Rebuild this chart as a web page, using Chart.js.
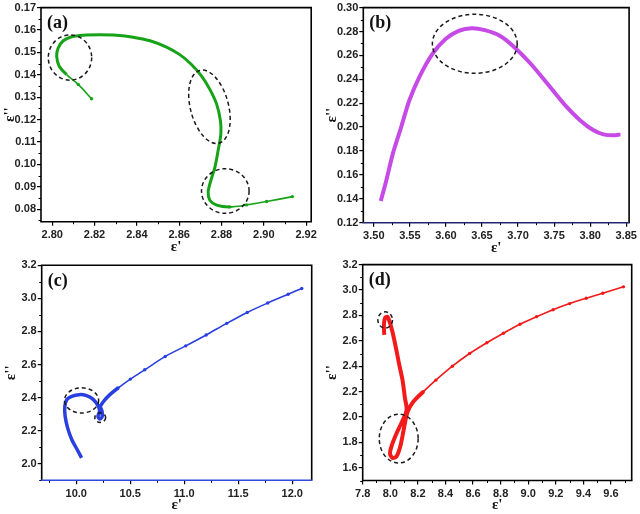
<!DOCTYPE html>
<html>
<head>
<meta charset="utf-8">
<script src="https://cdn.jsdelivr.net/npm/chart.js@4.4.1/dist/chart.umd.min.js"></script>
<style>
  html, body { margin: 0; padding: 0; background: #fff; }
  #fig { position: relative; width: 640px; height: 514px; }
  .panel { position: absolute; width: 320px; height: 257px; }
</style>
</head>
<body>
<div id="fig">
  <div class="panel" style="left:0;top:0"><canvas id="pa" width="320" height="257"></canvas></div>
  <div class="panel" style="left:320px;top:0"><canvas id="pb" width="320" height="257"></canvas></div>
  <div class="panel" style="left:0;top:257px"><canvas id="pc" width="320" height="257"></canvas></div>
  <div class="panel" style="left:320px;top:257px"><canvas id="pd" width="320" height="257"></canvas></div>
</div>
<script>
// ---- panel (a) ----
const aX = [2.8186, 2.8123, 2.8068, 2.8033, 2.8021, 2.8028, 2.8052, 2.8092, 2.8146, 2.8225, 2.8304,
  2.8383, 2.8462, 2.8540, 2.8603, 2.8658, 2.8706, 2.8745, 2.8777, 2.8795, 2.8797, 2.8784, 2.8769,
  2.8750, 2.8737, 2.8745, 2.8777, 2.8839, 2.8918, 2.9013, 2.9135];
const aY = [0.1293, 0.1357, 0.1401, 0.1438, 0.1483, 0.1519, 0.1552, 0.1570, 0.1577, 0.1579, 0.1577,
  0.1568, 0.1552, 0.1524, 0.1490, 0.1446, 0.1394, 0.1335, 0.1269, 0.1195, 0.1136, 0.1062, 0.0988,
  0.0929, 0.0877, 0.0840, 0.0818, 0.0810, 0.0819, 0.0834, 0.0856];
const aXTicks = [2.80, 2.82, 2.84, 2.86, 2.88, 2.90, 2.92];
const aYTicks = [0.08, 0.09, 0.10, 0.11, 0.12, 0.13, 0.14, 0.15, 0.16, 0.17];
// dashed circles: centre and half axes in data units, tilt in degrees
const aRings = [
  { x: 2.8084, y: 0.1477, rx: 0.01025, ry: 0.0101, tilt: 0 },
  { x: 2.8743, y: 0.1257, rx: 0.0090, ry: 0.0168, tilt: -14.7 },
  { x: 2.8818, y: 0.0881, rx: 0.01124, ry: 0.00997, tilt: 0 }
];

// ---- panel (b) ----
const bX = [3.5096, 3.5174, 3.5264, 3.5379, 3.5492, 3.5629, 3.5811, 3.5995, 3.6176, 3.6358, 3.6541,
  3.6747, 3.6952, 3.7179, 3.7408, 3.7636, 3.7863, 3.8047, 3.8183, 3.8320, 3.8420];
const bY = [0.1381, 0.1556, 0.1778, 0.2000, 0.2223, 0.2417, 0.2611, 0.2737, 0.2806, 0.2828, 0.2811,
  0.2764, 0.2667, 0.2528, 0.2362, 0.2195, 0.2056, 0.1973, 0.1939, 0.1931, 0.1939];
const bXTicks = [3.50, 3.55, 3.60, 3.65, 3.70, 3.75, 3.80, 3.85];
const bYTicks = [0.12, 0.14, 0.16, 0.18, 0.20, 0.22, 0.24, 0.26, 0.28, 0.30];
const bRings = [{ x: 3.640, y: 0.2697, rx: 0.0588, ry: 0.0247, tilt: 0 }];

// ---- panel (c) ----
const cX = [10.049, 10.008, 9.958, 9.920, 9.897, 9.894, 9.913, 9.958, 10.027, 10.095, 10.159, 10.205,
  10.216, 10.201, 10.216, 10.239, 10.239, 10.224, 10.254, 10.311, 10.387, 10.501, 10.634, 10.824,
  11.014, 11.203, 11.393, 11.583, 11.773, 11.962, 12.088];
const cY = [2.036, 2.086, 2.147, 2.217, 2.287, 2.347, 2.388, 2.408, 2.418, 2.412, 2.388, 2.347,
  2.317, 2.287, 2.271, 2.283, 2.317, 2.347, 2.378, 2.418, 2.458, 2.512, 2.568, 2.649,
  2.713, 2.779, 2.849, 2.915, 2.972, 3.025, 3.060];
const cXTicks = [10.0, 10.5, 11.0, 11.5, 12.0];
const cYTicks = [2.0, 2.2, 2.4, 2.6, 2.8, 3.0, 3.2];
const cRings = [
  { x: 10.049, y: 2.383, rx: 0.158, ry: 0.076, tilt: 0 },
  { x: 10.222, y: 2.279, rx: 0.050, ry: 0.029, tilt: 0 }
];

// ---- panel (d) ----
const dX = [7.956, 7.954, 7.963, 7.981, 7.997, 8.017, 8.040, 8.064, 8.089, 8.105, 8.118,
  8.085, 8.045, 8.012, 7.998, 8.015, 8.045, 8.072, 8.092, 8.108, 8.125,
  8.165, 8.24, 8.33, 8.45, 8.575, 8.70, 8.82, 8.94, 9.06, 9.18, 9.30, 9.42, 9.54, 9.69];
const dY = [2.647, 2.730, 2.782, 2.788, 2.743, 2.665, 2.548, 2.417, 2.288, 2.157, 2.053,
  1.962, 1.870, 1.780, 1.714, 1.678, 1.690, 1.766, 1.870, 1.962, 2.040,
  2.118, 2.20, 2.29, 2.40, 2.50, 2.585, 2.66, 2.73, 2.79, 2.845, 2.893, 2.935, 2.975, 3.025];
const dXTicks = [7.8, 8.0, 8.2, 8.4, 8.6, 8.8, 9.0, 9.2, 9.4, 9.6];
const dYTicks = [1.6, 1.8, 2.0, 2.2, 2.4, 2.6, 2.8, 3.0, 3.2];
const dRings = [
  { x: 7.963, y: 2.764, rx: 0.053, ry: 0.064, tilt: 0 },
  { x: 8.061, y: 1.830, rx: 0.141, ry: 0.192, tilt: 0 }
];

const tickFont = { family: "'Liberation Sans', Arial, sans-serif", size: 11, weight: "bold" };

// minor ticks sit halfway between the major ones
function minorTicks(major, lo, hi) {
  const step = major[1] - major[0];
  const out = [];
  for (let v = major[0] - step / 2; v <= hi + 1e-9; v += step) {
    if (v >= lo - 1e-9) out.push(v);
  }
  return out;
}

const decorations = {
  id: "decorations",
  afterDatasetsDraw(chart, args, o) {
    const { ctx, chartArea: a, scales: { x, y } } = chart;
    ctx.save();

    // dashed rings
    ctx.strokeStyle = "#1a1a1a";
    ctx.lineWidth = 1.5;
    ctx.setLineDash([4, 3]);
    o.rings.forEach((r) => {
      const cx = x.getPixelForValue(r.x);
      const cy = y.getPixelForValue(r.y);
      const rx = Math.abs(x.getPixelForValue(r.x + r.rx) - cx);
      const ry = Math.abs(y.getPixelForValue(r.y + r.ry) - cy);
      ctx.beginPath();
      ctx.ellipse(cx, cy, rx, ry, (r.tilt * Math.PI) / 180, 0, Math.PI * 2);
      ctx.stroke();
    });
    ctx.setLineDash([]);

    // minor ticks
    ctx.strokeStyle = "#000";
    ctx.lineWidth = 1;
    minorTicks(o.xTicks, x.min, x.max).forEach((v) => {
      const p = Math.round(x.getPixelForValue(v)) + 0.5;
      ctx.beginPath();
      ctx.moveTo(p, a.bottom);
      ctx.lineTo(p, a.bottom + 2.5);
      ctx.stroke();
    });
    minorTicks(o.yTicks, y.min, y.max).forEach((v) => {
      const p = Math.round(y.getPixelForValue(v)) + 0.5;
      ctx.beginPath();
      ctx.moveTo(a.left, p);
      ctx.lineTo(a.left - 2.5, p);
      ctx.stroke();
    });

    // frame
    ctx.lineWidth = 1.6;
    ctx.strokeStyle = "#000";
    ctx.beginPath();
    ctx.moveTo(a.left, a.bottom);
    ctx.lineTo(a.left, a.top);
    ctx.lineTo(a.right, a.top);
    ctx.lineTo(a.right, a.bottom);
    ctx.stroke();
    ctx.strokeStyle = o.bottomColor;
    ctx.beginPath();
    ctx.moveTo(a.left - 0.8, a.bottom);
    ctx.lineTo(a.right + 0.8, a.bottom);
    ctx.stroke();

    // panel letter
    ctx.fillStyle = "#111";
    ctx.font = "bold 18px 'Liberation Serif', 'Times New Roman', serif";
    ctx.textAlign = "left";
    ctx.textBaseline = "middle";
    ctx.fillText(o.letter, a.left + 6, a.top + 16);

    // axis titles
    ctx.font = "bold 15px 'Liberation Serif', 'Times New Roman', serif";
    ctx.textAlign = "center";
    ctx.fillText("ε'", (a.left + a.right) / 2, a.bottom + 25);
    ctx.translate(a.left - 31, (a.top + a.bottom) / 2);
    ctx.rotate(-Math.PI / 2);
    ctx.fillText("ε''", 0, 0);
    ctx.restore();
  }
};

function makePanel(id, p) {
  const pts = p.xs.map((v, i) => ({ x: v, y: p.ys[i] }));
  const thick = (i) => i >= p.thick[0] && i < p.thick[1];
  new Chart(document.getElementById(id), {
    type: "scatter",
    data: {
      datasets: [{
        data: pts,
        showLine: true,
        borderColor: p.color,
        backgroundColor: p.color,
        borderWidth: p.wide,
        tension: 0.3,
        pointRadius: (c) => (thick(c.dataIndex) ? 0 : 1.7),
        pointBorderWidth: 0,
        segment: {
          borderWidth: (c) => (thick(c.p0DataIndex) ? p.wide : 1.6)
        }
      }]
    },
    options: {
      responsive: false,
      animation: false,
      layout: { padding: { top: p.box.t, right: 320 - p.box.r, left: 0, bottom: 0 } },
      plugins: {
        legend: { display: false },
        tooltip: { enabled: false },
        decorations: {
          rings: p.rings, xTicks: p.xTicks, yTicks: p.yTicks,
          letter: p.letter, bottomColor: p.bottomColor || "#000"
        }
      },
      scales: {
        x: {
          type: "linear",
          min: p.xMin,
          max: p.xMax,
          afterBuildTicks: (s) => { s.ticks = p.xTicks.map((v) => ({ value: v })); },
          afterFit: (s) => { s.height = 257 - p.box.b; },
          ticks: {
            font: tickFont, color: "#222", padding: 3, maxRotation: 0, autoSkip: false,
            callback: (v) => Number(v).toFixed(p.xDec)
          },
          grid: { display: true, drawOnChartArea: false, drawTicks: true, tickLength: 4, color: "#000", lineWidth: 1.2 },
          border: { display: false }
        },
        y: {
          type: "linear",
          min: p.yMin,
          max: p.yMax,
          afterBuildTicks: (s) => { s.ticks = p.yTicks.map((v) => ({ value: v })); },
          afterFit: (s) => { s.width = p.box.l; },
          ticks: {
            font: tickFont, color: "#222", padding: 1, autoSkip: false,
            callback: (v) => Number(v).toFixed(p.yDec)
          },
          grid: { display: true, drawOnChartArea: false, drawTicks: true, tickLength: 4, color: "#000", lineWidth: 1.2 },
          border: { display: false }
        }
      }
    },
    plugins: [decorations]
  });
}

makePanel("pa", {
  xs: aX, ys: aY, color: "#17a317", wide: 3, thick: [2, 27],
  xTicks: aXTicks, yTicks: aYTicks, xMin: 2.7947, xMax: 2.9224, yMin: 0.0744, yMax: 0.17,
  xDec: 2, yDec: 2, rings: aRings, letter: "(a)",
  box: { l: 41, r: 311.7, t: 6.5, b: 221.7 }
});
makePanel("pb", {
  xs: bX, ys: bY, color: "#c64be6", wide: 4, thick: [0, 99],
  xTicks: bXTicks, yTicks: bYTicks, xMin: 3.4854, xMax: 3.854, yMin: 0.12, yMax: 0.30,
  xDec: 2, yDec: 2, rings: bRings, letter: "(b)", bottomColor: "#23246e",
  box: { l: 43.3, r: 312.5, t: 6.7, b: 222.7 }
});
makePanel("pc", {
  xs: cX, ys: cY, color: "#2a3fe0", wide: 3.5, thick: [0, 20],
  xTicks: cXTicks, yTicks: cYTicks, xMin: 9.68, xMax: 12.18, yMin: 1.9, yMax: 3.2,
  xDec: 1, yDec: 1, rings: cRings, letter: "(c)", bottomColor: "#3148d8",
  box: { l: 41.7, r: 311.7, t: 8.3, b: 223.3 }
});
makePanel("pd", {
  xs: dX, ys: dY, color: "#f21a1a", wide: 4, thick: [0, 22],
  xTicks: dXTicks, yTicks: dYTicks, xMin: 7.8, xMax: 9.75, yMin: 1.5, yMax: 3.2,
  xDec: 1, yDec: 1, rings: dRings, letter: "(d)",
  box: { l: 42.7, r: 311.7, t: 7.3, b: 223.5 }
});
</script>
</body>
</html>
